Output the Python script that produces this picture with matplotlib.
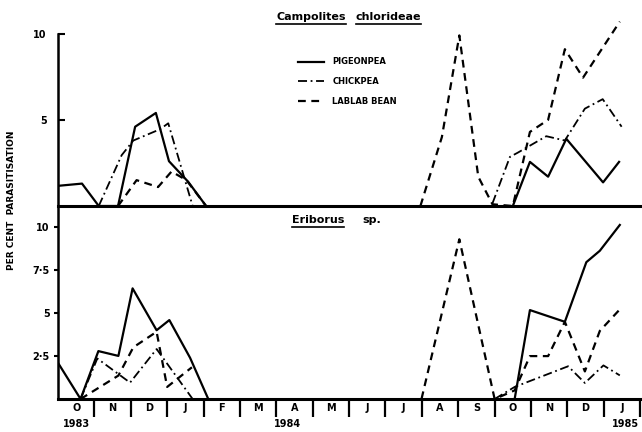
import numpy as np
import matplotlib
matplotlib.use("Agg")
import matplotlib.pyplot as plt
from matplotlib.lines import Line2D

# ==============================
# DATA (months since start of Oct 1983)
# ==============================
months = ['O', 'N', 'D', 'J', 'F', 'M', 'A', 'M', 'J', 'J', 'A', 'S', 'O', 'N', 'D', 'J']
years = ['1983', '1984', '1985']
year_pos = [0.5, 6.3, 15.6]

# Campoletis chlorideae (top panel)
cc_pigeon_x = [0.0, 0.66, 1.12, 1.65, 2.12, 2.69, 3.05, 3.58, 4.07, None,
               12.5, 12.97, 13.47, 13.97, 14.98, 15.42]
cc_pigeon_y = [1.17, 1.3, 0, 0, 4.6, 5.4, 2.6, 1.4, 0, None,
               0, 2.56, 1.7, 3.9, 1.37, 2.56]
cc_chick_x = [1.12, 1.75, 2.07, 2.8, 3.03, 3.7, None,
              11.94, 12.42, 12.64, 13.42, 13.93, 14.48, 14.97, 15.49]
cc_chick_y = [0, 2.95, 3.8, 4.45, 4.8, 0, None,
              0.15, 2.85, 3.1, 4.05, 3.8, 5.65, 6.2, 4.6]
cc_lablab_x = [1.65, 2.16, 2.75, 3.12, 3.53, 4.07, None,
               9.96, 10.55, 11.03, 11.55, 11.94, 12.5, 12.97, 13.47, 13.93, 14.43, 15.44]
cc_lablab_y = [0, 1.5, 1.1, 2.0, 1.5, 0, None,
               0, 4.0, 9.9, 1.7, 0.1, 0, 4.3, 5.0, 9.1, 7.45, 10.7]

# Eriborus sp. (bottom panel)
er_pigeon_x = [0.0, 0.62, 1.11, 1.66, 2.05, 2.71, 3.06, 3.63, 4.13, None,
               12.55, 12.97, 13.93, 14.52, 14.89, 15.44]
er_pigeon_y = [2.1, 0, 2.78, 2.5, 6.42, 3.99, 4.58, 2.39, 0, None,
               0, 5.16, 4.48, 7.94, 8.6, 10.1]
er_chick_x = [0.62, 1.08, 1.98, 2.71, 3.7, None,
              12.0, 12.55, 14.02, 14.48, 14.99, 15.44]
er_chick_y = [0, 2.35, 0.95, 2.9, 0, None,
              0, 0.7, 1.9, 0.93, 1.95, 1.37]
er_lablab_x = [0.62, 1.66, 2.07, 2.71, 3.0, 3.68, None,
               9.99, 11.03, 12.0, 12.55, 12.97, 13.47, 13.93, 14.48, 14.89, 15.44]
er_lablab_y = [0, 1.36, 3.0, 3.9, 0.7, 1.84, None,
               0, 9.27, 0, 0.5, 2.49, 2.49, 4.48, 1.6, 3.95, 5.2]


def arr(v):
    return np.array([np.nan if a is None else a for a in v], dtype=float)


# line styles
solid = dict(color='black', lw=1.6, linestyle='-')
dashdot = dict(color='black', lw=1.3, linestyle=(0, (5, 2, 1, 2)))
dashed = dict(color='black', lw=1.6, linestyle=(0, (3.5, 2.5)))

plt.rcParams['font.family'] = ['DejaVu Sans']

fig = plt.figure(figsize=(6.42, 4.32), dpi=100)
W, H = 642.0, 432.0
left = 58 / W
width = (642 - 58) / W
ax1 = fig.add_axes([left, 1 - 206 / H, width, 193 / H])
ax2 = fig.add_axes([left, 1 - 399 / H, width, 193 / H])

xmax = 16.05
ytop = 11.2

for ax in (ax1, ax2):
    ax.set_xlim(0, xmax)
    ax.set_ylim(0, ytop)
    ax.spines['top'].set_visible(False)
    ax.spines['right'].set_visible(False)
    ax.spines['left'].set_linewidth(1.8)
    ax.spines['bottom'].set_linewidth(2.2)
    ax.patch.set_alpha(0)

# top panel
ax1.plot(arr(cc_pigeon_x), arr(cc_pigeon_y), **solid)
ax1.plot(arr(cc_chick_x), arr(cc_chick_y), **dashdot)
ax1.plot(arr(cc_lablab_x), arr(cc_lablab_y), **dashed)
ax1.spines['left'].set_bounds(0, 10)
ax1.set_yticks([5, 10])
ax1.set_yticklabels(['5', '10'], fontsize=7, fontweight='bold')
ax1.tick_params(axis='y', direction='in', length=5, width=1.5, pad=8)
ax1.set_xticks([])

# bottom panel
ax2.plot(arr(er_pigeon_x), arr(er_pigeon_y), **solid)
ax2.plot(arr(er_chick_x), arr(er_chick_y), **dashdot)
ax2.plot(arr(er_lablab_x), arr(er_lablab_y), **dashed)
ax2.set_yticks([2.5, 5, 7.5, 10])
ax2.set_yticklabels(['2·5', '5', '7·5', '10'], fontsize=7, fontweight='bold')
ax2.tick_params(axis='y', direction='out', length=3, width=1.5, pad=3)

ax2.set_xticks(np.arange(1, 17))
ax2.set_xticklabels([])
ax2.tick_params(axis='x', which='major', direction='out', length=13, width=1.6)
ax2.set_xticks(np.arange(16) + 0.5, minor=True)
ax2.set_xticklabels(months, minor=True, fontsize=7, fontweight='bold')
ax2.tick_params(axis='x', which='minor', length=0, pad=6.5)
for lab in ax2.get_xticklabels(minor=True):
    lab.set_va('center')

for yr, xp in zip(years, year_pos):
    ax2.text(xp, -0.13, yr, transform=ax2.get_xaxis_transform(),
             ha='center', va='center', fontsize=7, fontweight='bold')

# y label
fig.text(12 / W, 1 - 200 / H, 'PER CENT  PARASITISATION', rotation=90,
         ha='center', va='center', fontsize=6.5, fontweight='bold')

# legend
handles = [Line2D([], [], **solid), Line2D([], [], **dashdot), Line2D([], [], **dashed)]
ax1.legend(handles, ['PIGEONPEA', 'CHICKPEA', 'LABLAB BEAN'],
           loc='upper left', bbox_to_anchor=(290 / W, 1 - 50 / H),
           bbox_transform=fig.transFigure, frameon=False,
           handlelength=3.2, handletextpad=1.0, labelspacing=1.3,
           prop={'size': 6, 'weight': 'bold'})

# titles with underlined words
t1 = fig.text(346 / W, 1 - 17 / H, 'Campolites', ha='right', va='center',
              fontsize=8, fontweight='bold')
t2 = fig.text(356 / W, 1 - 17 / H, 'chlorideae', ha='left', va='center',
              fontsize=8, fontweight='bold')
t3 = fig.text(292 / W, 1 - 220 / H, 'Eriborus', ha='left', va='center',
              fontsize=8, fontweight='bold')
fig.text(362 / W, 1 - 220 / H, 'sp.', ha='left', va='center',
         fontsize=8, fontweight='bold')

fig.canvas.draw()
renderer = fig.canvas.get_renderer()
for t in (t1, t2, t3):
    bb = t.get_window_extent(renderer).transformed(fig.transFigure.inverted())
    yl = bb.y0 - 1.5 / H
    fig.add_artist(Line2D([bb.x0, bb.x1], [yl, yl], color='black', lw=1.2,
                          transform=fig.transFigure))

plt.savefig("out.png", dpi=100)
